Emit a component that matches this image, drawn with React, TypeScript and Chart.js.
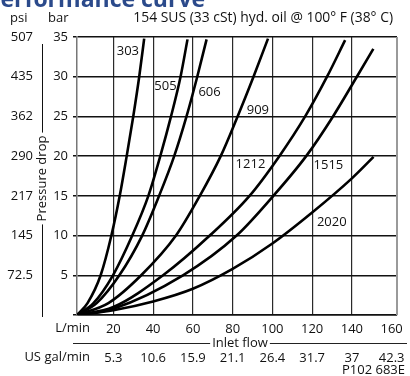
import { useEffect, useRef } from "react";
import { Chart, registerables } from "chart.js";

Chart.register(...registerables);

// Axis ticks
const flowTicks = [20, 40, 60, 80, 100, 120, 140, 160];
const galLabels = ["5.3", "10.6", "15.9", "21.1", "26.4", "31.7", "37", "42.3"];
const barTicks = [0, 5, 10, 15, 20, 25, 30, 35];
const psiLabels = ["", "72.5", "145", "217", "290", "362", "435", "507"];

// Curve names (ratings)
const ratings = ["303", "505", "606", "909", "1212", "1515", "2020"];

// Series: inlet flow (L/min) and pressure drop (bar)
const flow303 = [1.7, 7, 13.6, 19, 23.2, 26.7, 30, 33, 35.5];
const bar303 = [0, 1.5, 5, 10, 15, 20, 25, 30, 34.8];

const flow505 = [1.7, 10, 19.8, 29.5, 37.6, 43.6, 49, 53.8, 57.3];
const bar505 = [0, 1.5, 5, 10, 15, 20, 25, 30, 34.7];

const flow606 = [1.7, 11.6, 23, 34.5, 43, 50.6, 56.8, 62.2, 66.9];
const bar606 = [0, 1.5, 5, 10, 15, 20, 25, 30, 34.7];

const flow909 = [1.7, 17.5, 34, 51.5, 63.5, 74, 82.5, 90.5, 97.8];
const bar909 = [0, 1.5, 5, 10, 15, 20, 25, 30, 34.8];

const flow1212 = [1.7, 20, 45, 68.5, 88.5, 103.5, 116.5, 127.5, 136.6];
const bar1212 = [0, 1, 5, 10, 15, 20, 25, 30, 34.6];

const flow1515 = [1.7, 20, 55, 82, 100.5, 117, 130.5, 142.5, 150.8];
const bar1515 = [0, 0.8, 5, 10, 15, 20, 25, 30, 33.5];

const flow2020 = [1.7, 20, 40, 60, 80, 100, 120, 140, 150.9];
const bar2020 = [0, 0.6, 1.7, 3.3, 5.8, 9, 12.9, 17.2, 19.9];

const seriesFlows = [flow303, flow505, flow606, flow909, flow1212, flow1515, flow2020];
const seriesBars = [bar303, bar505, bar606, bar909, bar1212, bar1515, bar2020];

export default function App() {
  const ref = useRef<HTMLCanvasElement>(null);

  useEffect(() => {
    document.body.style.margin = "0";
    const FONT = "'Open Sans', 'Noto Sans', sans-serif";
    const canvas = ref.current!;
    const ctx = canvas.getContext("2d")!;

    // label anchors in data units (flow, bar)
    const labelAnchors: [number, number][] = [
      [21.7, 33.2],
      [40.6, 28.8],
      [62.8, 28.0],
      [87.1, 25.75],
      [81.5, 19.0],
      [120.7, 18.8],
      [122.4, 11.65],
    ];

    const extras = {
      id: "extras",
      afterDraw(chart: any) {
        const c = chart.ctx as CanvasRenderingContext2D;
        const a = chart.chartArea;
        const xs = chart.scales.x;
        const ys = chart.scales.y;
        c.save();
        // right border
        c.strokeStyle = "#9a9a9a";
        c.lineWidth = 2;
        c.beginPath();
        c.moveTo(a.right, a.top);
        c.lineTo(a.right, a.bottom);
        c.stroke();

        // header
        c.fillStyle = "#111";
        c.font = `13px ${FONT}`;
        c.textBaseline = "middle";
        c.textAlign = "left";
        c.fillText("psi", 10, 18);
        c.fillText("bar", 48, 18);
        c.font = `13.9px ${FONT}`;
        c.textAlign = "right";
        c.fillText("154 SUS (33 cSt) hyd. oil @ 100° F (38° C)", 393, 18);

        // title (cut off at top)
        c.fillStyle = "#2b4a8b";
        c.font = `bold 23px ${FONT}`;
        c.textAlign = "left";
        c.textBaseline = "alphabetic";
        c.fillText("Performance curve", -14, 6.5);

        // Pressure drop title with bracket line
        c.fillStyle = "#111";
        c.font = `13px ${FONT}`;
        const pdW = c.measureText("Pressure drop").width;
        const pdC = 178.5;
        c.save();
        c.translate(42, pdC);
        c.rotate(-Math.PI / 2);
        c.textAlign = "center";
        c.textBaseline = "middle";
        c.fillText("Pressure drop", 0, 0);
        c.restore();
        c.strokeStyle = "#111";
        c.lineWidth = 1;
        c.beginPath();
        c.moveTo(42.5, 44);
        c.lineTo(42.5, pdC - pdW / 2 - 3);
        c.moveTo(42.5, pdC + pdW / 2 + 3);
        c.lineTo(42.5, 317);
        c.stroke();

        // x axis texts
        c.textAlign = "right";
        c.textBaseline = "middle";
        c.fillText("L/min", 90, 328.5);
        c.fillText("US gal/min", 90, 357);
        c.textAlign = "center";
        const ifW = c.measureText("Inlet flow").width;
        const ifC = 240;
        c.fillText("Inlet flow", ifC, 343);
        c.strokeStyle = "#222";
        c.beginPath();
        c.moveTo(73, 343.5);
        c.lineTo(ifC - ifW / 2 - 2, 343.5);
        c.moveTo(ifC + ifW / 2 + 2, 343.5);
        c.lineTo(407, 343.5);
        c.stroke();
        c.textAlign = "left";
        c.fillText("P102 683E", 342, 370);

        // curve labels
        ratings.forEach((r, i) => {
          const [fx, fy] = labelAnchors[i];
          c.fillText(r, xs.getPixelForValue(fx), ys.getPixelForValue(fy));
        });
        c.restore();
      },
    };

    const datasets = ratings.map((r, i) => ({
      label: r,
      data: seriesFlows[i].map((f, j) => ({ x: f, y: seriesBars[i][j] })),
      borderColor: "#000",
      borderWidth: 2.6,
      pointRadius: 0,
      fill: false,
      cubicInterpolationMode: "monotone" as const,
      yAxisID: "y",
      xAxisID: "x",
    }));

    const chart = new Chart(ctx, {
      type: "line",
      data: { datasets },
      plugins: [extras],
      options: {
        responsive: false,
        animation: false,
        events: [],
        layout: { padding: { left: 0, right: 13, top: 37, bottom: 10 } },
        plugins: {
          legend: { display: false },
          tooltip: { enabled: false },
          title: { display: false },
        },
        font: { family: FONT },
        scales: {
          x: {
            type: "linear",
            position: "bottom",
            weight: 0,
            min: 1.7,
            max: 162.7,
            afterBuildTicks: (s: any) => {
              s.ticks = flowTicks.map((v) => ({ value: v }));
            },
            afterFit: (s: any) => {
              s.height = 35;
            },
            ticks: {
              autoSkip: false,
              maxRotation: 0,
              padding: 6,
              color: "#111",
              font: { family: FONT, size: 13 },
              callback: (v: any) => String(v),
            },
            grid: {
              drawTicks: false,
              lineWidth: 1.2,
              color: (c: any) => (c.tick && c.tick.value === 160 ? "rgba(0,0,0,0)" : "#2a2a2a"),
            },
            border: { display: true, color: "#111", width: 1.5 },
          },
          x2: {
            type: "linear",
            position: "bottom",
            weight: 1,
            min: 1.7,
            max: 162.7,
            afterBuildTicks: (s: any) => {
              s.ticks = flowTicks.map((v) => ({ value: v }));
            },
            afterFit: (s: any) => {
              s.height = 16;
            },
            ticks: {
              autoSkip: false,
              maxRotation: 0,
              padding: 0,
              color: "#111",
              font: { family: FONT, size: 13 },
              callback: (v: any) => galLabels[flowTicks.indexOf(Number(v))] ?? "",
            },
            grid: { display: false, drawTicks: false },
            border: { display: false },
          },
          y: {
            type: "linear",
            position: "left",
            weight: 0,
            min: 0,
            max: 35,
            afterBuildTicks: (s: any) => {
              s.ticks = barTicks.map((v) => ({ value: v }));
            },
            afterFit: (s: any) => {
              s.width = 41;
            },
            ticks: {
              padding: 5,
              color: "#111",
              font: { family: FONT, size: 13 },
              callback: (v: any) => (Number(v) === 0 ? "" : String(v)),
            },
            grid: { drawTicks: true, tickLength: 4, lineWidth: 1.5, color: "#111" },
            border: { display: true, color: "#777", width: 1.5 },
          },
          y2: {
            type: "linear",
            position: "left",
            weight: 1,
            min: 0,
            max: 35,
            afterBuildTicks: (s: any) => {
              s.ticks = barTicks.map((v) => ({ value: v }));
            },
            afterFit: (s: any) => {
              s.width = 36;
            },
            ticks: {
              padding: 3,
              color: "#111",
              font: { family: FONT, size: 13 },
              callback: (v: any) => psiLabels[barTicks.indexOf(Number(v))] ?? "",
            },
            grid: { display: false, drawTicks: false },
            border: { display: false },
          },
        },
      } as any,
    });

    return () => chart.destroy();
  }, []);

  return (
    <canvas
      ref={ref}
      width={410}
      height={376}
      style={{ display: "block", width: 410, height: 376 }}
    />
  );
}
